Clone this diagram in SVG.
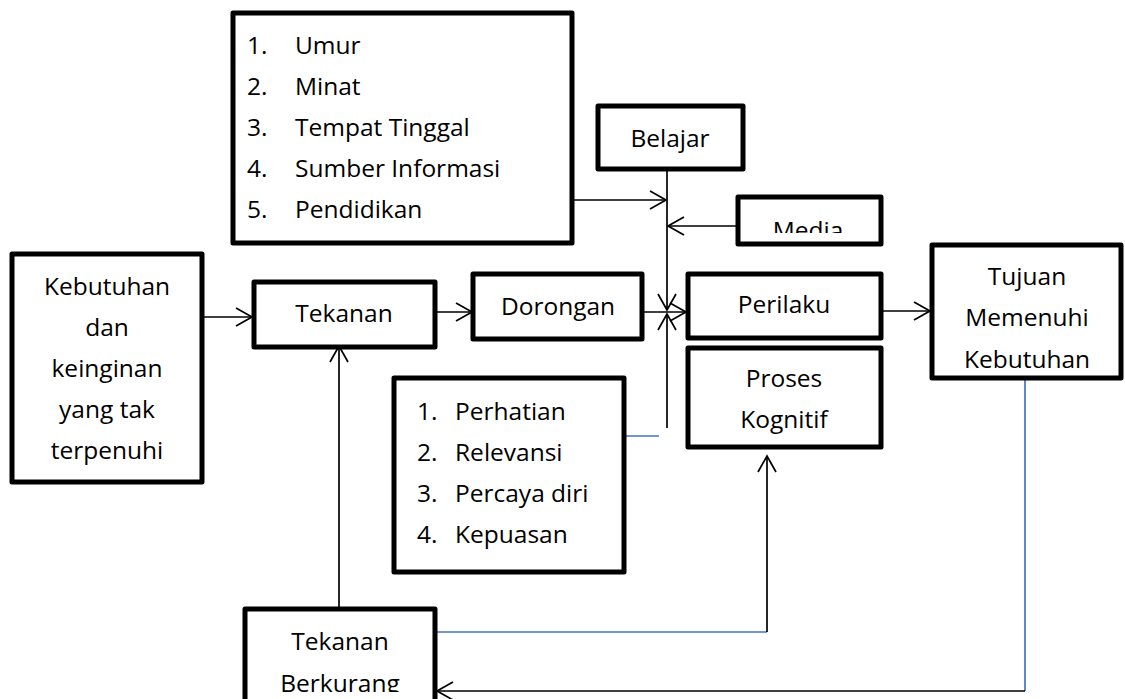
<svg xmlns="http://www.w3.org/2000/svg" width="1125" height="699" viewBox="0 0 1125 699">
<style>
.box{fill:#fff;stroke:#000;stroke-width:5;stroke-linejoin:round}
.t{font-family:"Open Sans","Liberation Sans",sans-serif;font-size:24.5px;fill:#000}
.c{text-anchor:middle}
.ln{fill:none;stroke:#000;stroke-width:1.7}
.bl{fill:none;stroke:#4472C4;stroke-width:1.7}
</style>
<defs>
<marker id="ah" markerUnits="userSpaceOnUse" markerWidth="20" markerHeight="22" viewBox="-18 -10 20 20" refX="0" refY="0" orient="auto">
<path d="M-16,-9 L0,0 L-16,9" fill="none" stroke="#000" stroke-width="1.7"/>
</marker>
<clipPath id="cMedia"><rect x="736" y="196" width="145" height="37"/></clipPath>
<clipPath id="cTujuan"><rect x="932" y="245" width="189" height="123"/></clipPath>
<clipPath id="cTB"><rect x="245" y="609" width="190" height="83"/></clipPath>
</defs>
<rect width="1125" height="699" fill="#fff"/>
<g id="connectors">
<line class="ln" x1="202" y1="317" x2="252" y2="317" marker-end="url(#ah)"/>
<line class="ln" x1="435" y1="312" x2="472" y2="312" marker-end="url(#ah)"/>
<line class="ln" x1="642" y1="312" x2="686" y2="312" marker-end="url(#ah)"/>
<line class="ln" x1="570" y1="200" x2="666" y2="200" marker-end="url(#ah)"/>
<line class="ln" x1="667" y1="169" x2="667" y2="310" marker-end="url(#ah)"/>
<line class="ln" x1="736" y1="226" x2="668" y2="226" marker-end="url(#ah)"/>
<line class="ln" x1="667" y1="428" x2="667" y2="314" marker-end="url(#ah)"/>
<line class="bl" x1="624" y1="436" x2="659" y2="436"/>
<line class="ln" x1="881" y1="311" x2="930" y2="311" marker-end="url(#ah)"/>
<line class="ln" x1="339" y1="609" x2="339" y2="346" marker-end="url(#ah)"/>
<line class="bl" x1="435" y1="632" x2="767" y2="632"/>
<line class="ln" x1="767" y1="632" x2="767" y2="456" marker-end="url(#ah)"/>
<line class="bl" x1="1025" y1="378" x2="1025" y2="691"/>
<line class="ln" x1="1025" y1="691" x2="437" y2="691" marker-end="url(#ah)"/>
</g>
<g id="faktor">
<rect class="box" x="233" y="13" width="339" height="230"/>
<text class="t" x="247" y="54">1.</text><text class="t" x="295" y="54">Umur</text>
<text class="t" x="247" y="95">2.</text><text class="t" x="295" y="95">Minat</text>
<text class="t" x="247" y="136">3.</text><text class="t" x="295" y="136">Tempat Tinggal</text>
<text class="t" x="247" y="177">4.</text><text class="t" x="295" y="177">Sumber Informasi</text>
<text class="t" x="247" y="218">5.</text><text class="t" x="295" y="218">Pendidikan</text>
</g>
<g id="belajar">
<rect class="box" x="598" y="106" width="145" height="63"/>
<text class="t c" x="670" y="147">Belajar</text>
</g>
<g id="media">
<rect class="box" x="738" y="197" width="143" height="47"/>
<text class="t c" x="808" y="239" clip-path="url(#cMedia)">Media</text>
</g>
<g id="kebutuhan">
<rect class="box" x="12" y="254" width="190" height="228"/>
<text class="t c" x="107" y="295">Kebutuhan</text>
<text class="t c" x="107" y="336">dan</text>
<text class="t c" x="107" y="377">keinginan</text>
<text class="t c" x="107" y="418">yang tak</text>
<text class="t c" x="107" y="459">terpenuhi</text>
</g>
<g id="tekanan">
<rect class="box" x="254" y="282" width="181" height="65"/>
<text class="t c" x="344" y="322">Tekanan</text>
</g>
<g id="dorongan">
<rect class="box" x="473" y="274" width="169" height="65"/>
<text class="t c" x="558" y="315">Dorongan</text>
</g>
<g id="perilaku">
<rect class="box" x="688" y="274" width="193" height="64"/>
<text class="t c" x="784" y="313">Perilaku</text>
</g>
<g id="proses">
<rect class="box" x="688" y="348" width="193" height="99"/>
<text class="t c" x="784" y="387">Proses</text>
<text class="t c" x="784" y="428">Kognitif</text>
</g>
<g id="tujuan">
<rect class="box" x="932" y="245" width="189" height="133"/>
<text class="t c" x="1027" y="285">Tujuan</text>
<text class="t c" x="1027" y="326">Memenuhi</text>
<text class="t c" x="1027" y="368" clip-path="url(#cTujuan)">Kebutuhan</text>
</g>
<g id="arcs">
<rect class="box" x="394" y="378" width="230" height="194"/>
<text class="t" x="417" y="420">1.</text><text class="t" x="455" y="420">Perhatian</text>
<text class="t" x="417" y="461">2.</text><text class="t" x="455" y="461">Relevansi</text>
<text class="t" x="417" y="502">3.</text><text class="t" x="455" y="502">Percaya diri</text>
<text class="t" x="417" y="543">4.</text><text class="t" x="455" y="543">Kepuasan</text>
</g>
<g id="tekanan-berkurang">
<rect class="box" x="245" y="609" width="190" height="100"/>
<text class="t c" x="340" y="650">Tekanan</text>
<text class="t c" x="340" y="692" clip-path="url(#cTB)">Berkurang</text>
</g>
</svg>
